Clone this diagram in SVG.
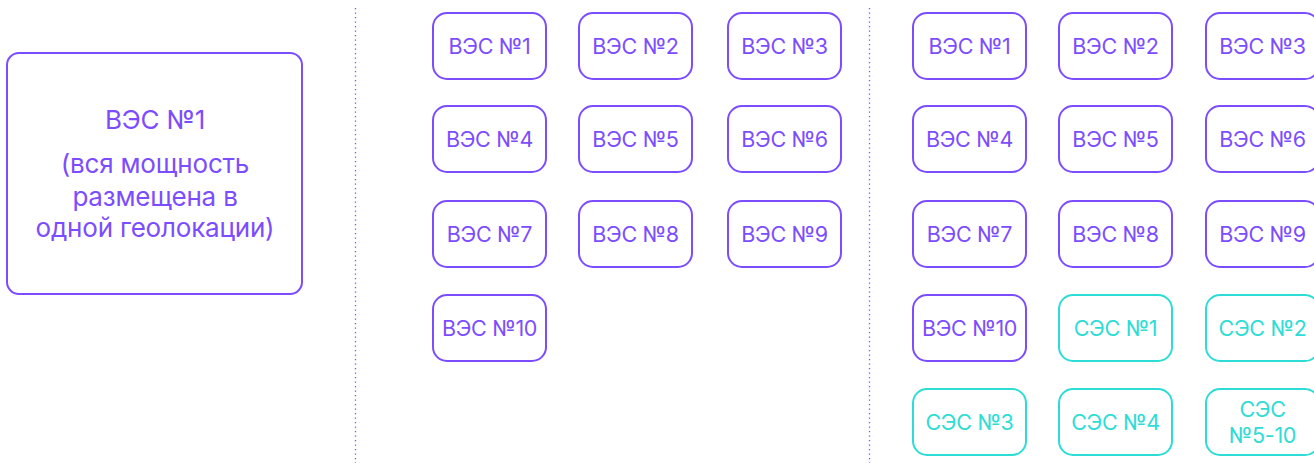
<svg xmlns="http://www.w3.org/2000/svg" width="1314" height="463" viewBox="0 0 1314 463">
<style>
.b{fill:#fff;stroke:#7C4DFF;stroke-width:2}
.s{fill:#fff;stroke:#2EDCD6;stroke-width:2}
text{font-family:Inter,"Noto Sans",sans-serif;text-anchor:middle}
.t{font-size:21.5px;fill:#7C4DFF;letter-spacing:-0.3px}
.ts{font-size:21.5px;fill:#2EDCD6;letter-spacing:-0.3px}
.big{font-size:26px;fill:#7C4DFF;letter-spacing:-0.2px}
.sep{stroke:#7C4DFF;stroke-width:1.3;stroke-dasharray:1.3 3.2;fill:none}
</style>
<rect width="1314" height="463" fill="#fff"/>
<g id="connectors">
<line class="sep" x1="355.5" y1="8" x2="355.5" y2="463"/>
<line class="sep" x1="869.5" y1="8" x2="869.5" y2="463"/>
</g>
<g id="big">
<rect class="b" x="7" y="53" width="295" height="241" rx="12"/>
<text class="big" x="155" y="129">ВЭС №1</text>
<text class="big" x="155" y="173">(вся мощность</text>
<text class="big" x="155" y="206">размещена в</text>
<text class="big" x="155" y="237">одной геолокации)</text>
</g>
<g id="a1"><rect class="b" x="433" y="13" width="113" height="66" rx="14"/><text class="t" x="489.5" y="54">ВЭС №1</text></g>
<g id="a2"><rect class="b" x="579" y="13" width="113" height="66" rx="14"/><text class="t" x="635.5" y="54">ВЭС №2</text></g>
<g id="a3"><rect class="b" x="728" y="13" width="113" height="66" rx="14"/><text class="t" x="784.5" y="54">ВЭС №3</text></g>
<g id="a4"><rect class="b" x="433" y="106" width="113" height="66" rx="14"/><text class="t" x="489.5" y="147">ВЭС №4</text></g>
<g id="a5"><rect class="b" x="579" y="106" width="113" height="66" rx="14"/><text class="t" x="635.5" y="147">ВЭС №5</text></g>
<g id="a6"><rect class="b" x="728" y="106" width="113" height="66" rx="14"/><text class="t" x="784.5" y="147">ВЭС №6</text></g>
<g id="a7"><rect class="b" x="433" y="201" width="113" height="66" rx="14"/><text class="t" x="489.5" y="242">ВЭС №7</text></g>
<g id="a8"><rect class="b" x="579" y="201" width="113" height="66" rx="14"/><text class="t" x="635.5" y="242">ВЭС №8</text></g>
<g id="a9"><rect class="b" x="728" y="201" width="113" height="66" rx="14"/><text class="t" x="784.5" y="242">ВЭС №9</text></g>
<g id="a10"><rect class="b" x="433" y="295" width="113" height="66" rx="14"/><text class="t" x="489.5" y="336">ВЭС №10</text></g>
<g id="b1"><rect class="b" x="913" y="13" width="113" height="66" rx="14"/><text class="t" x="969.5" y="54">ВЭС №1</text></g>
<g id="b2"><rect class="b" x="1059" y="13" width="113" height="66" rx="14"/><text class="t" x="1115.5" y="54">ВЭС №2</text></g>
<g id="b3"><rect class="b" x="1206" y="13" width="113" height="66" rx="14"/><text class="t" x="1262.5" y="54">ВЭС №3</text></g>
<g id="b4"><rect class="b" x="913" y="106" width="113" height="66" rx="14"/><text class="t" x="969.5" y="147">ВЭС №4</text></g>
<g id="b5"><rect class="b" x="1059" y="106" width="113" height="66" rx="14"/><text class="t" x="1115.5" y="147">ВЭС №5</text></g>
<g id="b6"><rect class="b" x="1206" y="106" width="113" height="66" rx="14"/><text class="t" x="1262.5" y="147">ВЭС №6</text></g>
<g id="b7"><rect class="b" x="913" y="201" width="113" height="66" rx="14"/><text class="t" x="969.5" y="242">ВЭС №7</text></g>
<g id="b8"><rect class="b" x="1059" y="201" width="113" height="66" rx="14"/><text class="t" x="1115.5" y="242">ВЭС №8</text></g>
<g id="b9"><rect class="b" x="1206" y="201" width="113" height="66" rx="14"/><text class="t" x="1262.5" y="242">ВЭС №9</text></g>
<g id="b10"><rect class="b" x="913" y="295" width="113" height="66" rx="14"/><text class="t" x="969.5" y="336">ВЭС №10</text></g>
<g id="c1"><rect class="s" x="1059" y="295" width="113" height="66" rx="14"/><text class="ts" x="1115.5" y="336">СЭС №1</text></g>
<g id="c2"><rect class="s" x="1206" y="295" width="113" height="66" rx="14"/><text class="ts" x="1262.5" y="336">СЭС №2</text></g>
<g id="c3"><rect class="s" x="913" y="389" width="113" height="66" rx="14"/><text class="ts" x="969.5" y="430">СЭС №3</text></g>
<g id="c4"><rect class="s" x="1059" y="389" width="113" height="66" rx="14"/><text class="ts" x="1115.5" y="430">СЭС №4</text></g>
<g id="c5"><rect class="s" x="1206" y="389" width="113" height="66" rx="14"/><text class="ts" x="1262.5" y="417">СЭС</text><text class="ts" x="1262.5" y="443">№5-10</text></g>
</svg>
